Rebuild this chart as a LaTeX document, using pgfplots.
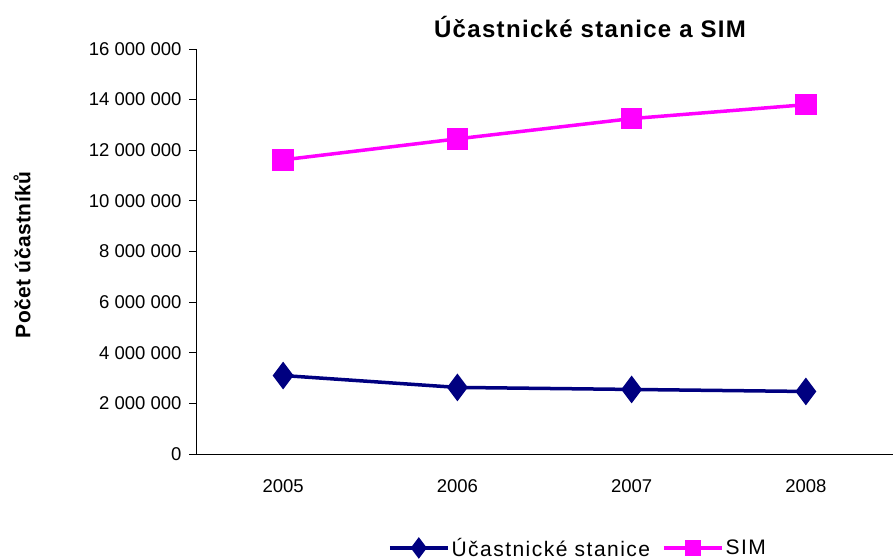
\documentclass[border=0pt]{standalone}
\usepackage{fontspec}
\setmainfont{Liberation Sans}
\usepackage{pgfplots}
\pgfplotsset{compat=1.18}
\definecolor{navyc}{RGB}{0,0,128}
\definecolor{magc}{RGB}{255,0,255}
\newcommand{\tf}{\fontsize{18.5bp}{22bp}\selectfont}
\begin{document}
\begin{tikzpicture}[x=1bp,y=1bp]
\path[use as bounding box] (0,0) rectangle (893,560);
\begin{axis}[
  at={(196bp,106bp)}, anchor=south west,
  scale only axis, width=697bp, height=405bp,
  xmin=-0.5, xmax=3.5, ymin=0, ymax=16000000,
  axis x line=bottom, axis y line=left,
  axis line style={-, black, line width=0.8bp},
  xtick={0,1,2,3}, xticklabels={2005,2006,2007,2008},
  major x tick style={draw=none},
  extra x ticks={-0.5,0.5,1.5,2.5},
  extra x tick labels={},
  extra x tick style={major tick length=7bp, tick align=outside, major tick style={draw=black, line width=0.8bp}},
  ytick={0,2000000,4000000,6000000,8000000,10000000,12000000,14000000,16000000},
  yticklabels={0,2 000 000,4 000 000,6 000 000,8 000 000,10 000 000,12 000 000,14 000 000,16 000 000},
  scaled y ticks=false,
  tick align=outside, major tick length=7bp,
  major y tick style={black, line width=0.8bp},
  tick label style={font=\tf},
  xticklabel style={yshift=-15bp},
  yticklabel style={xshift=-4bp},
  legend columns=2,
  legend style={at={(axis description cs:0.548,-0.232)}, anchor=center, draw=none, fill=none,
    font=\fontsize{21bp}{24bp}\selectfont\addfontfeature{LetterSpace=7},
    /tikz/every even column/.append style={column sep=10bp},
    /tikz/every odd column/.append style={column sep=0bp}},
  legend image code/.code={%
    \draw[#1, mark=none] (0bp,0bp) -- (58bp,0bp);
    \draw[#1, mark options={scale=0.72}] plot coordinates {(29bp,0bp)};},
  legend cell align=left,
]
\addplot[navyc, line width=3.5bp, mark=diamond*, mark size=11bp, mark options={solid, fill=navyc}]
  coordinates {(0,3100000)(1,2630000)(2,2550000)(3,2470000)};
\addlegendentry{Účastnické stanice}
\addplot[magc, line width=3.5bp, mark=square*, mark size=9bp, mark options={solid, fill=magc}]
  coordinates {(0,11620000)(1,12450000)(2,13250000)(3,13800000)};
\addlegendentry{SIM}
\end{axis}
\node[font=\fontsize{24bp}{26bp}\selectfont\bfseries\addfontfeature{LetterSpace=5.5}] at (590bp,533bp) {Účastnické stanice a SIM};
\node[rotate=90, font=\fontsize{21bp}{24bp}\selectfont\bfseries\addfontfeature{LetterSpace=2}] at (22bp,305bp) {Počet účastníků};
\end{tikzpicture}
\end{document}
